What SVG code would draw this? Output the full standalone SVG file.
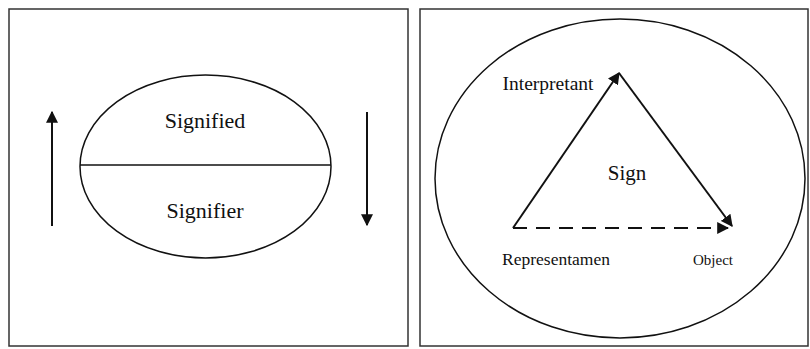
<svg xmlns="http://www.w3.org/2000/svg" width="810" height="349" viewBox="0 0 810 349">
<style>
.frame{fill:none;stroke:#333;stroke-width:1.5}
.shape{fill:none;stroke:#111;stroke-width:1.5}
.conn{fill:none;stroke:#111;stroke-width:2}
text{font-family:"Liberation Serif","Times New Roman",serif;fill:#111;text-anchor:middle}
</style>
<defs>
<marker id="ah" viewBox="0 0 10 10" refX="9" refY="5" markerWidth="6" markerHeight="6" orient="auto" markerUnits="strokeWidth">
<path d="M0,0 L10,5 L0,10 Z" fill="#111"/>
</marker>
</defs>
<rect width="810" height="349" fill="#fff"/>
<g id="left-panel">
<rect class="frame" x="9" y="9" width="399" height="337"/>
<g id="saussure-sign">
<ellipse class="shape" cx="205.5" cy="166.5" rx="125.5" ry="91.5"/>
<line class="shape" x1="80" y1="165" x2="331" y2="165"/>
</g>
<g id="signified"><text x="205" y="128" font-size="22">Signified</text></g>
<g id="signifier"><text x="205" y="218" font-size="22">Signifier</text></g>
</g>
<g id="right-panel">
<rect class="frame" x="420" y="9" width="388" height="337"/>
<ellipse class="shape" cx="620" cy="178.5" rx="185" ry="159.5"/>
<g id="interpretant"><text x="548" y="90" font-size="19.5">Interpretant</text></g>
<g id="sign"><text x="627" y="180" font-size="21">Sign</text></g>
<g id="representamen"><text x="556" y="265" font-size="17.5">Representamen</text></g>
<g id="object"><text x="713" y="265" font-size="15">Object</text></g>
</g>
<g id="connectors">
<line class="conn" x1="52" y1="226" x2="52" y2="112" marker-end="url(#ah)"/>
<line class="conn" x1="367" y1="112" x2="367" y2="225" marker-end="url(#ah)"/>
<line class="conn" x1="513" y1="228" x2="619" y2="73" marker-end="url(#ah)"/>
<line class="conn" x1="619" y1="73" x2="732" y2="226" marker-end="url(#ah)"/>
<line class="conn" x1="513" y1="228" x2="728" y2="228" stroke-dasharray="14,9" marker-end="url(#ah)"/>
</g>
</svg>
